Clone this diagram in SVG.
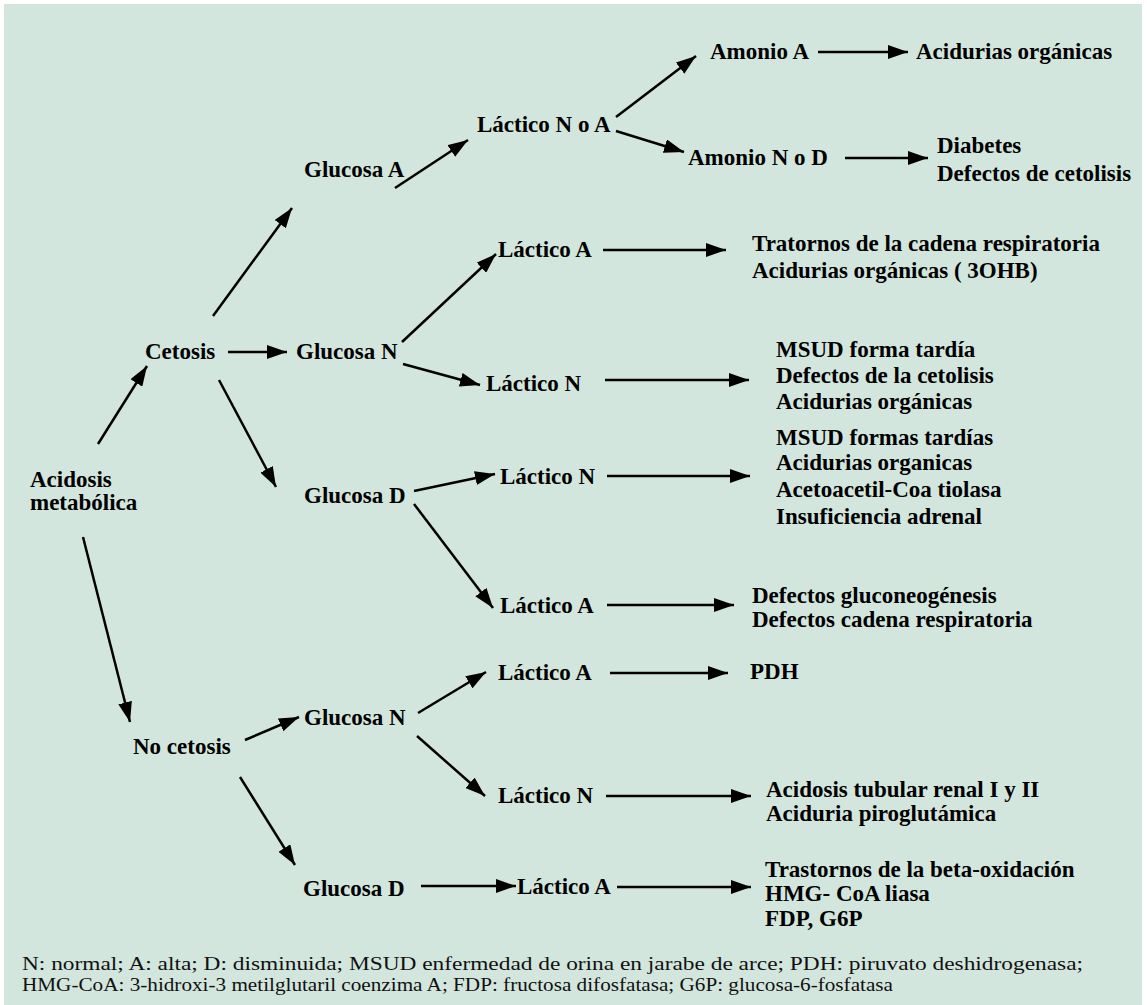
<svg xmlns="http://www.w3.org/2000/svg" width="1147" height="1005" viewBox="0 0 1147 1005">
<defs>
<marker id="ah" markerUnits="userSpaceOnUse" markerWidth="20" markerHeight="14" refX="20" refY="7" orient="auto">
<path d="M0,0 L20,7 L0,14 z" fill="#000"/>
</marker>
<style>
.t{font-family:"Liberation Serif","Times New Roman",serif;font-weight:bold;font-size:23px;fill:#000}
.f{font-family:"Liberation Serif","Times New Roman",serif;font-size:18px;fill:#111}
.c line{stroke:#000;stroke-width:2.5;fill:none;marker-end:url(#ah)}
</style>
</defs>
<rect x="0" y="0" width="1147" height="1005" fill="#fff"/>
<rect x="4" y="4" width="1138" height="1001" fill="#d3e6dd"/>

<g id="n-acidosis"><text class="t" x="30" y="487">Acidosis</text><text class="t" x="30" y="510">metabólica</text></g>
<g id="n-cetosis"><text class="t" x="145" y="359">Cetosis</text></g>
<g id="n-nocetosis"><text class="t" x="133" y="754">No cetosis</text></g>
<g id="n-glucA"><text class="t" x="304" y="177">Glucosa A</text></g>
<g id="n-glucN1"><text class="t" x="296" y="359">Glucosa N</text></g>
<g id="n-glucD1"><text class="t" x="304" y="503">Glucosa D</text></g>
<g id="n-glucN2"><text class="t" x="304" y="725">Glucosa N</text></g>
<g id="n-glucD2"><text class="t" x="303" y="896">Glucosa D</text></g>
<g id="n-lacNoA"><text class="t" x="477" y="132">Láctico N o A</text></g>
<g id="n-amonioA"><text class="t" x="710" y="59">Amonio A</text></g>
<g id="n-amonioND"><text class="t" x="688" y="165">Amonio N o D</text></g>
<g id="n-r-acid1"><text class="t" x="916" y="59">Acidurias orgánicas</text></g>
<g id="n-r-diab"><text class="t" x="937" y="153">Diabetes</text><text class="t" x="937" y="181">Defectos de cetolisis</text></g>
<g id="n-lacA1"><text class="t" x="498" y="257">Láctico A</text></g>
<g id="n-r-trat"><text class="t" x="752" y="251">Tratornos de la cadena respiratoria</text><text class="t" x="752" y="278">Acidurias orgánicas ( 3OHB)</text></g>
<g id="n-lacN1"><text class="t" x="486" y="391">Láctico N</text></g>
<g id="n-r-msud1"><text class="t" x="776" y="357">MSUD forma tardía</text><text class="t" x="776" y="383">Defectos de la cetolisis</text><text class="t" x="776" y="409">Acidurias orgánicas</text></g>
<g id="n-lacN2"><text class="t" x="500" y="484">Láctico N</text></g>
<g id="n-r-msud2"><text class="t" x="776" y="445">MSUD formas tardías</text><text class="t" x="776" y="470">Acidurias organicas</text><text class="t" x="776" y="497">Acetoacetil-Coa tiolasa</text><text class="t" x="776" y="524">Insuficiencia adrenal</text></g>
<g id="n-lacA2"><text class="t" x="500" y="613">Láctico A</text></g>
<g id="n-r-gluco"><text class="t" x="752" y="603">Defectos gluconeogénesis</text><text class="t" x="752" y="627">Defectos cadena respiratoria</text></g>
<g id="n-lacA3"><text class="t" x="498" y="680">Láctico A</text></g>
<g id="n-r-pdh"><text class="t" x="750" y="679">PDH</text></g>
<g id="n-lacN3"><text class="t" x="498" y="803">Láctico N</text></g>
<g id="n-r-tub"><text class="t" x="766" y="797">Acidosis tubular renal I y II</text><text class="t" x="766" y="821">Aciduria piroglutámica</text></g>
<g id="n-lacA4"><text class="t" x="517" y="894">Láctico A</text></g>
<g id="n-r-beta"><text class="t" x="765" y="877">Trastornos de la beta-oxidación</text><text class="t" x="765" y="901">HMG- CoA liasa</text><text class="t" x="765" y="926">FDP, G6P</text></g>

<g id="connectors" class="c">
<line x1="98" y1="444" x2="147" y2="366"/>
<line x1="83" y1="537" x2="130" y2="722"/>
<line x1="213" y1="316" x2="292" y2="208"/>
<line x1="228" y1="352" x2="287" y2="352"/>
<line x1="219" y1="380" x2="276" y2="487"/>
<line x1="395" y1="188" x2="468" y2="140"/>
<line x1="616" y1="117" x2="696" y2="56"/>
<line x1="616" y1="131" x2="684" y2="152"/>
<line x1="818" y1="52" x2="908" y2="52"/>
<line x1="845" y1="158" x2="928" y2="158"/>
<line x1="402" y1="342" x2="496" y2="254"/>
<line x1="403" y1="364" x2="480" y2="385"/>
<line x1="603" y1="250" x2="726" y2="250"/>
<line x1="605" y1="380" x2="749" y2="380"/>
<line x1="414" y1="491" x2="495" y2="474"/>
<line x1="414" y1="504" x2="493" y2="608"/>
<line x1="607" y1="476" x2="750" y2="476"/>
<line x1="607" y1="605" x2="734" y2="605"/>
<line x1="245" y1="740" x2="299" y2="717"/>
<line x1="418" y1="713" x2="486" y2="672"/>
<line x1="417" y1="736" x2="485" y2="796"/>
<line x1="240" y1="777" x2="295" y2="865"/>
<line x1="610" y1="673" x2="728" y2="673"/>
<line x1="606" y1="796" x2="751" y2="796"/>
<line x1="421" y1="886" x2="516" y2="886"/>
<line x1="617" y1="887" x2="751" y2="887"/>
</g>

<g id="footnote">
<text class="f" x="22" y="970" textLength="1061" lengthAdjust="spacingAndGlyphs">N: normal; A: alta; D: disminuida; MSUD enfermedad de orina en jarabe de arce; PDH: piruvato deshidrogenasa;</text>
<text class="f" x="22" y="991" textLength="871" lengthAdjust="spacingAndGlyphs">HMG-CoA: 3-hidroxi-3 metilglutaril coenzima A; FDP: fructosa difosfatasa; G6P: glucosa-6-fosfatasa</text>
</g>
</svg>
